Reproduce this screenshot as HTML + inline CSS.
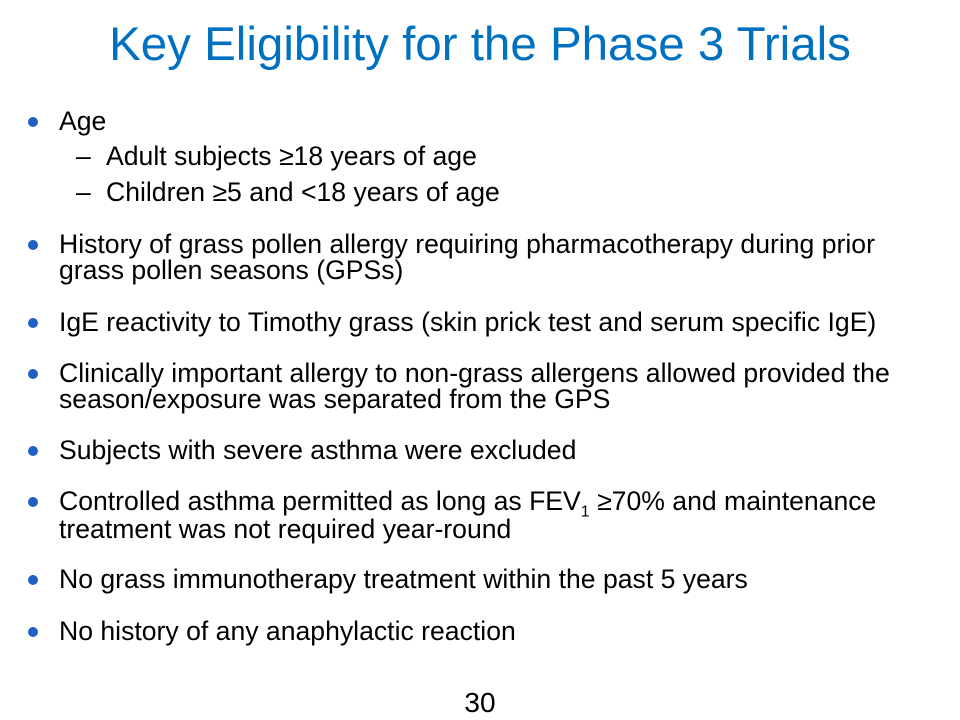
<!DOCTYPE html>
<html>
<head>
<meta charset="utf-8">
<style>
  html,body{margin:0;padding:0;}
  body{width:960px;height:720px;background:#fff;position:relative;overflow:hidden;font-family:"Liberation Sans",Arial,sans-serif;color:#000;}
  .t{position:absolute;white-space:nowrap;font-size:26.6px;line-height:26px;}
  .title{position:absolute;left:0;width:960px;top:20px;text-align:center;font-size:47.5px;color:#0070C0;line-height:50px;}
  .dot{position:absolute;width:10px;height:10px;border-radius:50%;background:#1F5FC6;}
  .dash{position:absolute;font-size:26.6px;line-height:26px;}
  .pn{position:absolute;left:0;width:960px;text-align:center;top:689px;font-size:28px;line-height:28px;}
</style>
</head>
<body>
  <div class="title">Key Eligibility for the Phase 3 Trials</div>

  <div class="dot" style="left:28px;top:117px"></div>
  <div class="t" style="left:59px;top:108px">Age</div>
  <div class="dash" style="left:76px;top:143px">–</div>
  <div class="t" style="left:106px;top:143px">Adult subjects ≥18 years of age</div>
  <div class="dash" style="left:76px;top:179px">–</div>
  <div class="t" style="left:106px;top:179px">Children ≥5 and &lt;18 years of age</div>

  <div class="dot" style="left:28px;top:240px"></div>
  <div class="t" style="left:59px;top:231px">History of grass pollen allergy requiring pharmacotherapy during prior</div>
  <div class="t" style="left:59px;top:257px">grass pollen seasons (GPSs)</div>

  <div class="dot" style="left:28px;top:318px"></div>
  <div class="t" style="left:59px;top:309px">IgE reactivity to Timothy grass (skin prick test and serum specific IgE)</div>

  <div class="dot" style="left:28px;top:369px"></div>
  <div class="t" style="left:59px;top:360px">Clinically important allergy to non-grass allergens allowed provided the</div>
  <div class="t" style="left:59px;top:386px">season/exposure was separated from the GPS</div>

  <div class="dot" style="left:28px;top:446px"></div>
  <div class="t" style="left:59px;top:437px">Subjects with severe asthma were excluded</div>

  <div class="dot" style="left:28px;top:497px"></div>
  <div class="t" style="left:59px;top:488px">Controlled asthma permitted as long as FEV<sub style="font-size:16px;line-height:0">1</sub> ≥70% and maintenance</div>
  <div class="t" style="left:59px;top:516px">treatment was not required year-round</div>

  <div class="dot" style="left:28px;top:575px"></div>
  <div class="t" style="left:59px;top:566px">No grass immunotherapy treatment within the past 5 years</div>

  <div class="dot" style="left:28px;top:627px"></div>
  <div class="t" style="left:59px;top:618px">No history of any anaphylactic reaction</div>

  <div class="pn">30</div>
</body>
</html>
